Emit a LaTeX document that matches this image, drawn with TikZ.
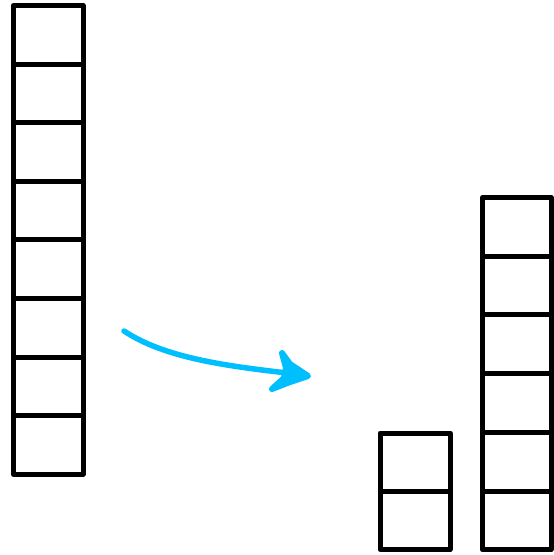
\documentclass[tikz,border=0pt]{standalone}
\definecolor{arrowblue}{HTML}{00BFFF}
\begin{document}
\begin{tikzpicture}[x=1pt,y=-1pt,
  cell/.style={draw=black,line width=5pt,line join=round,line cap=round},
  sketch/.style={draw=arrowblue,line width=5.5pt,line cap=round,line join=round}]
\useasboundingbox (0,0) rectangle (554,555);
% left column: 8 cells
\foreach \i in {0,...,7}{
  \draw[cell] (13.5,{5.5+\i*58.6}) rectangle (83,{5.5+(\i+1)*58.6});
}
% right small column: 2 cells
\foreach \i in {0,1}{
  \draw[cell] (380,{433+\i*58.3}) rectangle (450,{433+(\i+1)*58.3});
}
% right tall column: 6 cells
\foreach \i in {0,...,5}{
  \draw[cell] (482.5,{197.5+\i*58.7}) rectangle (551,{197.5+(\i+1)*58.7});
}
% arrow
\coordinate (s) at (124,331);
\coordinate (e) at (296,374);
\draw[sketch] (s) .. controls (165,358) and (225,366) .. (e);
\fill[arrowblue,draw=arrowblue,line width=6pt,line join=round]
  (282,353) -- (290,364) -- (296,368) -- (308,376) -- (290,382) -- (272,389) -- (284,378) -- (286,368) -- cycle;
\end{tikzpicture}
\end{document}
